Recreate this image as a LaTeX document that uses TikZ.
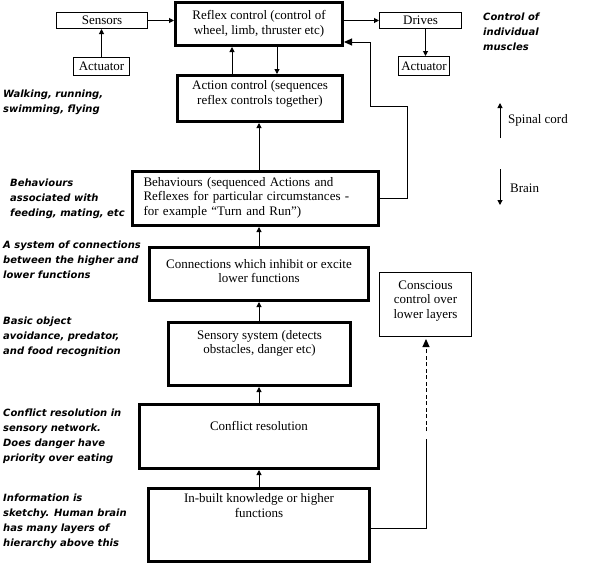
\documentclass[tikz,border=0pt]{standalone}
\usepackage{fontspec}
\setmainfont{Liberation Serif}
\newfontfamily\notefont{DejaVu Sans}
\usetikzlibrary{positioning, shapes, arrows.meta}

\begin{document}
\begin{tikzpicture}[x=1pt,y=-1pt,
>={Triangle[length=5pt,width=5pt]},
every node/.style={font=\fontsize{13}{14.5}\selectfont,inner sep=2pt},
layer/.style={draw,line width=3pt,align=center},
smallbox/.style={draw,line width=1pt,align=center},
note/.style={anchor=north west,inner sep=0pt,align=left,
  font=\notefont\bfseries\itshape\fontsize{10}{15}\selectfont},
link/.style={line width=1pt,->}]
\useasboundingbox (0,0) rectangle (592,563);
% the layers
\node[layer,minimum width=167pt,minimum height=43pt] (reflex) at (259,24)
  {Reflex control (control of\\wheel, limb, thruster etc)};
\node[layer,minimum width=165pt,minimum height=46pt,text depth=12pt] (action) at (260,98.5)
  {Action control (sequences\\reflex controls together)};
\node[layer,align=left,text width=224pt,minimum width=246pt,minimum height=54pt,text depth=34pt] (behav) at (255.5,198.5)
  {Behaviours (sequenced Actions and\\Reflexes for particular circumstances -\\for example “Turn and Run”)};
\node[layer,minimum width=219pt,minimum height=53pt,text depth=6pt] (conn) at (259,274)
  {Connections which inhibit or excite\\lower functions};
\node[layer,minimum width=182pt,minimum height=63pt,text depth=24pt] (sensory) at (259.5,354)
  {Sensory system (detects\\obstacles, danger etc)};
\node[layer,minimum width=239pt,minimum height=64pt,text depth=21pt] (conflict) at (259,436.5)
  {Conflict resolution};
\node[layer,minimum width=221pt,minimum height=73pt,text depth=39pt] (inbuilt) at (259,525)
  {In-built knowledge or higher\\functions};
\node[smallbox,minimum width=92pt,minimum height=64pt,text depth=10pt] (conscious) at (425.5,304.5)
  {Conscious\\control over\\lower layers};
% sensors and drives
\node[smallbox,minimum width=91pt,minimum height=16pt] (sensors) at (102,20.5) {Sensors};
\node[smallbox,minimum width=56pt,minimum height=18pt] (sensact) at (101.5,66.5) {Actuator};
\node[smallbox,minimum width=82pt,minimum height=16pt] (drives) at (420.5,20.5) {Drives};
\node[smallbox,minimum width=51pt,minimum height=19pt] (driveact) at (424,66) {Actuator};
% notes
\node[note] (nwalk) at (3,90) {Walking, running,\\swimming, flying};
\node[note] (nmuscle) at (483,13) {Control of\\individual\\muscles};
\node[note] (nbehav) at (10,179) {Behaviours\\associated with\\feeding, mating, etc};
\node[note] (nconn) at (3,241) {A system of connections\\between the higher and\\lower functions};
\node[note] (nbasic) at (3,317) {Basic object\\avoidance, predator,\\and food recognition};
\node[note] (nconflict) at (3,409) {Conflict resolution in\\sensory network.\\Does danger have\\priority over eating};
\node[note] (ninfo) at (3,494) {Information is\\sketchy. Human brain\\has many layers of\\hierarchy above this};
% direction key
\coordinate (up0) at (500,138);
\coordinate (up1) at (500,103);
\coordinate (down0) at (500,169);
\coordinate (down1) at (500,205);
\node[anchor=west] (spinal) at (506,120) {Spinal cord};
\node[anchor=west] (brain) at (508,188) {Brain};
\draw[link] (up0) -- (up1);
\draw[link] (down0) -- (down1);
% connectors
\draw[link] (sensors.east) -- (sensors.east -| reflex.west);
\draw[link] (sensact.north) -- (sensact.north |- sensors.south);
\draw[link] (drives.west -| reflex.east) -- (drives.west);
\draw[link] ([xshift=5pt]drives.south) -- ([xshift=5pt]drives.south |- driveact.north);
\draw[link] ([xshift=-28pt]action.north) -- ([xshift=-28pt]action.north |- reflex.south);
\draw[link] ([xshift=18pt]reflex.south) -- ([xshift=18pt]reflex.south |- action.north);
\foreach \low/\high in {inbuilt/conflict,conflict/sensory,sensory/conn,conn/behav,behav/action}
\draw[link] (259,0 |- \low.north) -- (259,0 |- \high.south);
% feedback to reflex control
\coordinate (fb1) at (407,106);
\coordinate (fb2) at (370,42);
\draw[line width=1pt,-{Triangle[length=8pt,width=7pt]}] (behav.east) -| (fb1) -| (fb2) -- (fb2 -| reflex.east);
% conscious control
\coordinate (cc1) at (426,439);
\coordinate (cc2) at (426,431);
\draw[line width=1pt] ([yshift=-3pt]inbuilt.east) -| (cc1);
\draw[line width=1pt,dash pattern=on 4pt off 2.5pt,-{Triangle[length=8pt,width=7pt]}]
  (cc2) -- ([yshift=-2pt]cc2 |- conscious.south);
\end{tikzpicture}
\end{document}
